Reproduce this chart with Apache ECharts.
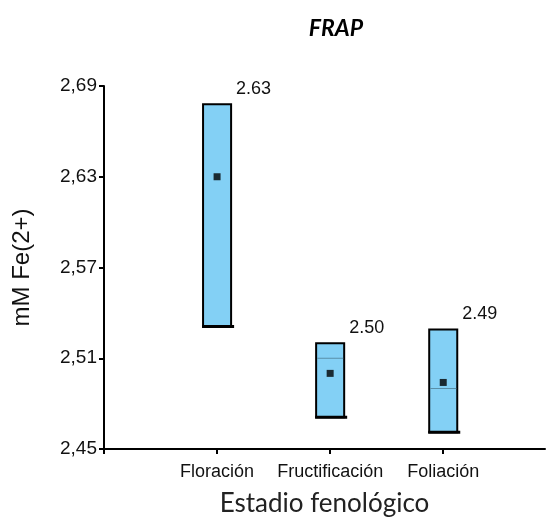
<!DOCTYPE html>
<html>
<head>
<meta charset="utf-8">
<script src="https://cdn.jsdelivr.net/npm/echarts@6/dist/echarts.min.js"></script>
<style>
  html, body { margin: 0; padding: 0; background: #fff; }
  #chart { width: 551px; height: 523px; }
</style>
</head>
<body>
<div id="chart"></div>
<script>
// datos
var categories = ['Floración', 'Fructificación', 'Foliación'];
var boxLow = [2.531, 2.471, 2.461];
var boxHigh = [2.678, 2.520, 2.529];
var medianLine = [null, 2.510, 2.490];
var means = [2.630, 2.500, 2.494];
var yTicks = [2.45, 2.51, 2.57, 2.63, 2.69];

var boxData = [];
var meanData = [];
for (var i = 0; i < categories.length; i++) {
    boxData.push([i + 1, boxLow[i], boxHigh[i], medianLine[i], means[i]]);
    meanData.push([i + 1, means[i]]);
}

var chart = echarts.init(document.getElementById('chart'));

var option = {
    animation: false,
    title: {
        text: 'FRAP',
        left: 331,
        top: 12,
        textAlign: 'center',
        textStyle: {
            fontFamily: 'Lato',
            fontStyle: 'italic',
            fontWeight: 'bold',
            fontSize: 23,
            color: '#000'
        }
    },
    grid: { left: 104, right: 6, top: 86, bottom: 74 },
    xAxis: {
        type: 'value',
        min: 0,
        max: 3.9,
        interval: 1,
        name: 'Estadio fenológico',
        nameLocation: 'middle',
        nameGap: 42,
        nameTextStyle: { fontFamily: 'Lato', fontSize: 26, color: '#222' },
        splitLine: { show: false },
        axisLine: { lineStyle: { color: '#000', width: 2 } },
        axisTick: { length: 5, lineStyle: { color: '#000', width: 2 } },
        axisLabel: {
            showMaxLabel: false,
            margin: 14,
            fontFamily: 'Liberation Sans',
            fontSize: 18,
            color: '#111',
            formatter: function (v) {
                return categories[Math.round(v) - 1] || '';
            }
        }
    },
    yAxis: {
        type: 'value',
        min: 2.45,
        max: 2.69,
        interval: 0.06,
        name: 'mM Fe(2+)',
        nameLocation: 'middle',
        nameGap: 70,
        nameTextStyle: { fontFamily: 'Liberation Sans', fontSize: 24, color: '#111' },
        splitLine: { show: false },
        axisLine: { show: true, lineStyle: { color: '#000', width: 2 } },
        axisTick: { show: true, length: 5, lineStyle: { color: '#000', width: 2 } },
        axisLabel: {
            margin: 7,
            fontFamily: 'Liberation Sans',
            fontSize: 19,
            color: '#111',
            formatter: function (v) {
                return v.toFixed(2).replace('.', ',');
            }
        }
    },
    series: [
        {
            type: 'custom',
            data: boxData,
            renderItem: function (params, api) {
                var x = api.value(0);
                var top = api.coord([x, api.value(2)]);
                var bot = api.coord([x, api.value(1)]);
                var w = api.size([0.248, 0])[0];
                var left = top[0] - w / 2;
                var right = top[0] + w / 2;
                var children = [
                    {
                        type: 'rect',
                        shape: { x: left, y: top[1], width: w, height: bot[1] - top[1] },
                        style: { fill: '#83d0f5', stroke: '#000', lineWidth: 2 }
                    },
                    {
                        type: 'line',
                        shape: { x1: left - 1, y1: bot[1], x2: right + 3, y2: bot[1] },
                        style: { stroke: '#000', lineWidth: 3 }
                    },
                    {
                        type: 'text',
                        x: right + 5,
                        y: top[1] - 15,
                        style: {
                            text: api.value(4).toFixed(2),
                            fill: '#111',
                            font: '18px "Liberation Sans"',
                            verticalAlign: 'middle',
                            align: 'left'
                        }
                    }
                ];
                var med = api.value(3);
                if (med != null && !isNaN(med)) {
                    var m = api.coord([x, med]);
                    children.push({
                        type: 'line',
                        shape: { x1: left + 1, y1: m[1], x2: right - 1, y2: m[1] },
                        style: { stroke: '#5a8fa8', lineWidth: 1 }
                    });
                }
                return { type: 'group', children: children };
            },
            z: 2
        },
        {
            type: 'scatter',
            data: meanData,
            symbol: 'rect',
            symbolSize: 7,
            itemStyle: { color: '#000' },
            z: 3
        }
    ]
};

chart.setOption(option);
</script>
</body>
</html>
